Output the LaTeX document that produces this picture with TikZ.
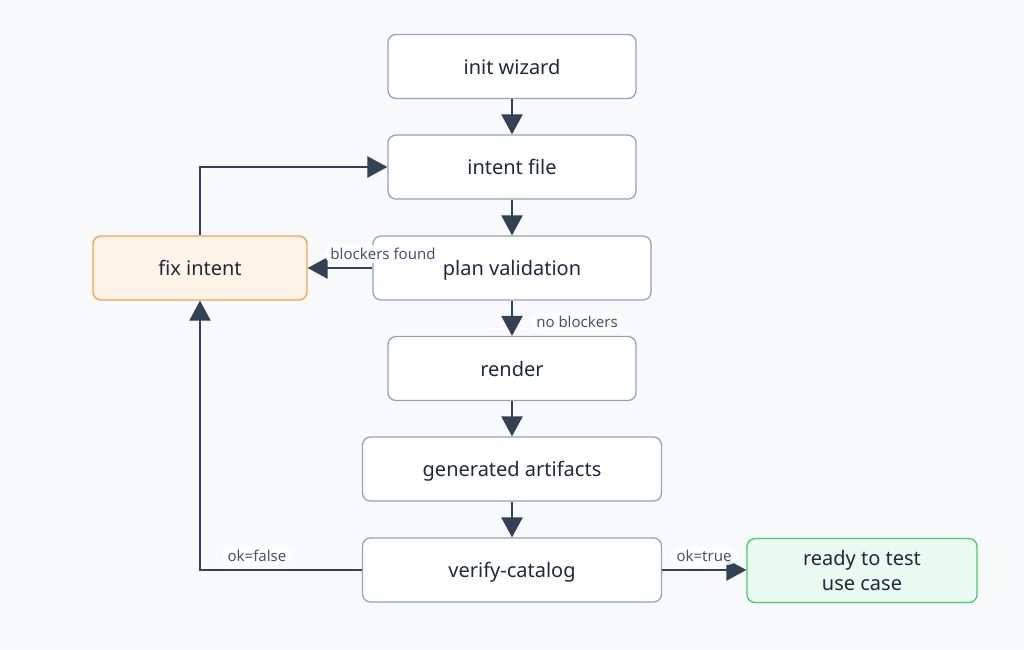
\documentclass[tikz,border=0pt]{standalone}
\usepackage{fontspec}
\setmainfont{Noto Sans}
\usetikzlibrary{arrows.meta}
\definecolor{bgc}{HTML}{F8F9FB}
\definecolor{edgec}{HTML}{334155}
\definecolor{boxline}{HTML}{94A3B8}
\definecolor{txt}{HTML}{1E293B}
\definecolor{lbl}{HTML}{475569}
\definecolor{orangefill}{HTML}{FFF4E8}
\definecolor{orangeline}{HTML}{F5A04F}
\definecolor{greenfill}{HTML}{EBFAF0}
\definecolor{greenline}{HTML}{3FCF6A}
\tikzset{
  box/.style={draw=boxline, line width=1.3pt, fill=white, rounded corners=8pt,
    minimum height=64pt, text=txt, font=\fontsize{20}{24}\selectfont, align=center, inner sep=0pt,
    text height=17pt, text depth=2pt},
  conn/.style={draw=edgec, line width=2.6pt, -{Triangle[length=20pt,width=21pt]}},
  elabel/.style={fill=white, fill opacity=0.85, text opacity=1, rounded corners=9pt, text=lbl,
    font=\fontsize{15}{17}\selectfont, inner xsep=6pt, inner ysep=3pt}
}
\begin{document}
\begin{tikzpicture}[x=1pt,y=-1pt]
\fill[bgc] (0,0) rectangle (1024,649);
\useasboundingbox (0,0) rectangle (1024,649);
\node[box, minimum width=248pt] (init) at (512,66.5) {init wizard};
\node[box, minimum width=248pt] (intent) at (512,167) {intent file};
\node[box, minimum width=278pt] (plan) at (512,268) {plan validation};
\node[box, minimum width=214pt, fill=orangefill, draw=orangeline] (fix) at (200,268) {fix intent};
\node[box, minimum width=248pt] (render) at (512,368.5) {render};
\node[box, minimum width=299pt] (gen) at (512,469) {generated artifacts};
\node[box, minimum width=299pt] (verify) at (512,570) {verify-catalog};
\node[box, minimum width=230pt, fill=greenfill, draw=greenline, font=\fontsize{20}{25}\selectfont, text height=, text depth=] (ready) at (862,570.5) {ready to test\\use case};
\coordinate (c1) at (200,570);
\coordinate (c2) at (200,167);
\draw[conn] (init) -- (intent);
\draw[conn] (intent) -- (plan);
\draw[conn] (plan.west) -- (fix.east);
\draw[conn] (plan) -- (render);
\draw[conn] (render) -- (gen);
\draw[conn] (gen) -- (verify);
\draw[conn] (verify.west) -- (c1) -- (fix.south);
\draw[conn] (fix.north) -- (c2) -- (intent.west);
\draw[conn] (verify.east) -- (ready.west |- verify.east);
\node[elabel] (l1) at (383,254) {blockers found};
\node[elabel] (l2) at (577,322) {no blockers};
\node[elabel] (l3) at (257,556) {ok=false};
\node[elabel] (l4) at (704,556) {ok=true};
\end{tikzpicture}
\end{document}
